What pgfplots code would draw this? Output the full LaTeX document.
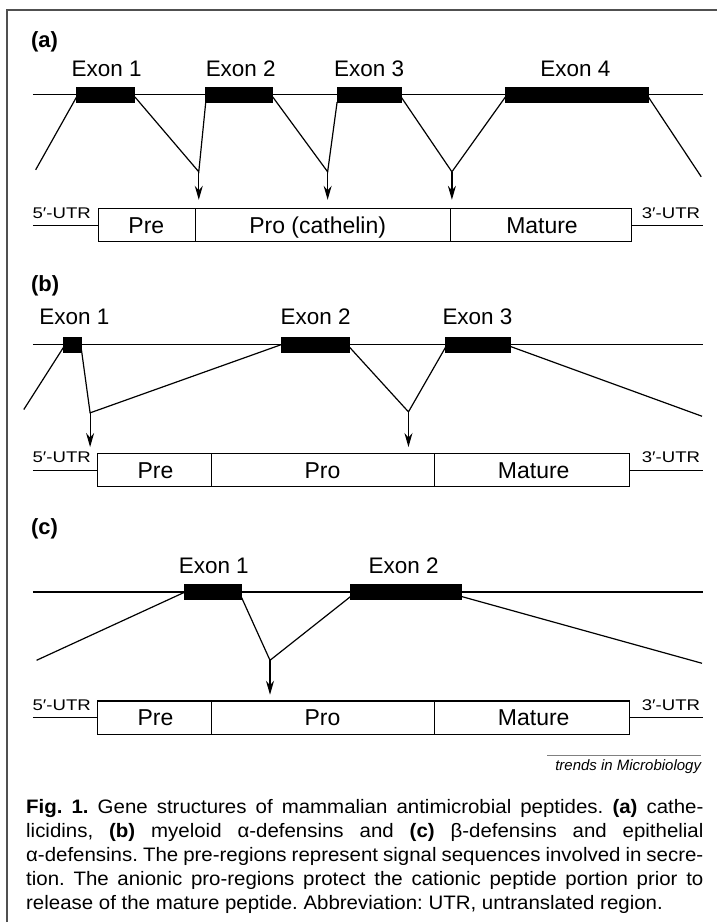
\documentclass[border=0pt]{standalone}
\usepackage{pgfplots}
\pgfplotsset{compat=1.18}
\usetikzlibrary{arrows.meta}
\usepackage{fontspec}
\setmainfont{Liberation Sans}
\newfontfamily\capfont[FakeStretch=1.05]{Liberation Sans}
\newfontfamily\utrfont[FakeStretch=1.2]{Liberation Sans}
\definecolor{bordergray}{HTML}{505050}
\newcommand{\exfont}{\fontsize{22.5}{26}\selectfont}
\newcommand{\bxfont}{\fontsize{23}{26}\selectfont}
\newcommand{\utr}{\utrfont\fontsize{15.5}{18}\selectfont}
\newcommand{\captxt}{\capfont\fontsize{19.5}{24}\selectfont\frenchspacing}
\begin{document}
\begin{tikzpicture}
\begin{axis}[
  width=718pt, height=923pt, scale only axis,
  xmin=0, xmax=718, ymin=0, ymax=923, y dir=reverse,
  hide axis, clip=false,
  cycle list={{black,solid,mark=none,line width=1.2pt}},
  ln/.style={black,solid,mark=none,line width=1.2pt},
  arr/.style={black,solid,mark=none,line width=1.2pt,-{Stealth[length=14pt,width=8pt]}},
  ex/.style={black,solid,mark=none,line width=1pt,fill=black},
]
% bounding
\addplot[draw=none] coordinates {(0,0) (718,923)};
% frame
\addplot[bordergray, line width=2pt, mark=none] coordinates {(7,923) (7,10) (718,10)};

% ================= (a) =================
\addplot[ln] coordinates {(33,95) (704,95)};
\addplot[ex] coordinates {(76.7,88) (135,88) (135,103) (76.7,103)} --cycle;
\addplot[ex] coordinates {(206,88) (273,88) (273,103) (206,103)} --cycle;
\addplot[ex] coordinates {(337.5,88) (401.5,88) (401.5,103) (337.5,103)} --cycle;
\addplot[ex] coordinates {(506,88) (649,88) (649,103) (506,103)} --cycle;
\addplot[ln] coordinates {(76.7,97) (35.7,170)};
\addplot[ln] coordinates {(135,97) (199,172) (206,102)};
\addplot[ln] coordinates {(273,97) (328,172) (337.5,102)};
\addplot[ln] coordinates {(401.5,97) (452.4,172) (506,97)};
\addplot[ln] coordinates {(649,97) (702,177)};
\addplot[arr] coordinates {(199,172) (199,200)};
\addplot[arr] coordinates {(328,172) (328,200)};
\addplot[arr] coordinates {(452.4,172) (452.4,200)};
\addplot[ln] coordinates {(33,225.5) (98.4,225.5)};
\addplot[ln] coordinates {(632,225.5) (704,225.5)};
\addplot[ln] coordinates {(98.4,209) (632,209) (632,242) (98.4,242)} --cycle;
\addplot[ln] coordinates {(196,209) (196,242)};
\addplot[ln] coordinates {(451,209) (451,242)};
\node[anchor=base west, inner sep=0pt] at (31,47.2) {\fontsize{22}{24}\selectfont\bfseries (a)};
\node[anchor=base, inner sep=0pt] at (106.7,77) {\exfont Exon 1};
\node[anchor=base, inner sep=0pt] at (241,77) {\exfont Exon 2};
\node[anchor=base, inner sep=0pt] at (369.5,77) {\exfont Exon 3};
\node[anchor=base, inner sep=0pt] at (576,77) {\exfont Exon 4};
\node[anchor=base west, inner sep=0pt] at (32.5,218.3) {\utr 5′-UTR};
\node[anchor=base east, inner sep=0pt] at (701,218.3) {\utr 3′-UTR};
\node[anchor=base, inner sep=0pt] at (146.5,233.7) {\bxfont Pre};
\node[anchor=base, inner sep=0pt] at (318,233.7) {\bxfont Pro (cathelin)};
\node[anchor=base, inner sep=0pt] at (542.6,233.7) {\bxfont Mature};

% ================= (b) =================
\addplot[ln] coordinates {(33,345) (704,345)};
\addplot[ex] coordinates {(64,337.5) (81.5,337.5) (81.5,352.5) (64,352.5)} --cycle;
\addplot[ex] coordinates {(281.6,337.5) (349.4,337.5) (349.4,352.5) (281.6,352.5)} --cycle;
\addplot[ex] coordinates {(446.4,337.5) (511.4,337.5) (511.4,352.5) (446.4,352.5)} --cycle;
\addplot[ln] coordinates {(64,347) (23.8,410)};
\addplot[ln] coordinates {(81.5,350) (90.2,413.3) (281.6,345)};
\addplot[ln] coordinates {(349.4,347) (408.9,412.3) (446.4,347)};
\addplot[ln] coordinates {(511.4,347) (702.8,416.7)};
\addplot[arr] coordinates {(90.2,413.3) (90.2,447.5)};
\addplot[arr] coordinates {(408.9,412.3) (408.9,447.5)};
\addplot[ln] coordinates {(33,470.7) (97.5,470.7)};
\addplot[ln] coordinates {(630.5,470.7) (704,470.7)};
\addplot[ln] coordinates {(97.5,454) (630.5,454) (630.5,487.3) (97.5,487.3)} --cycle;
\addplot[ln] coordinates {(212,454) (212,487.3)};
\addplot[ln] coordinates {(435,454) (435,487.3)};
\node[anchor=base west, inner sep=0pt] at (31,291.5) {\fontsize{22}{24}\selectfont\bfseries (b)};
\node[anchor=base, inner sep=0pt] at (74.4,325) {\exfont Exon 1};
\node[anchor=base, inner sep=0pt] at (316,325) {\exfont Exon 2};
\node[anchor=base, inner sep=0pt] at (478,325) {\exfont Exon 3};
\node[anchor=base west, inner sep=0pt] at (32.5,463.3) {\utr 5′-UTR};
\node[anchor=base east, inner sep=0pt] at (701,463.3) {\utr 3′-UTR};
\node[anchor=base, inner sep=0pt] at (155.7,479) {\bxfont Pre};
\node[anchor=base, inner sep=0pt] at (322.8,479) {\bxfont Pro};
\node[anchor=base, inner sep=0pt] at (534.3,479) {\bxfont Mature};

% ================= (c) =================
\addplot[ln] coordinates {(33,592.7) (704,592.7)};
\addplot[ex] coordinates {(184.5,585) (241.3,585) (241.3,600) (184.5,600)} --cycle;
\addplot[ex] coordinates {(351.2,585) (461.5,585) (461.5,600) (351.2,600)} --cycle;
\addplot[ln] coordinates {(184.5,593) (36.6,661)};
\addplot[ln] coordinates {(241.3,597) (270.3,661) (351.2,597)};
\addplot[ln] coordinates {(461.5,597) (702.8,664)};
\addplot[arr] coordinates {(270.3,661) (270.3,695.5)};
\addplot[ln] coordinates {(33,718.3) (97.5,718.3)};
\addplot[ln] coordinates {(630.5,718.3) (704,718.3)};
\addplot[ln] coordinates {(97.5,701.7) (630.5,701.7) (630.5,735) (97.5,735)} --cycle;
\addplot[ln] coordinates {(212,701.7) (212,735)};
\addplot[ln] coordinates {(435,701.7) (435,735)};
\node[anchor=base west, inner sep=0pt] at (31,535.5) {\fontsize{22}{24}\selectfont\bfseries (c)};
\node[anchor=base, inner sep=0pt] at (214,574.5) {\exfont Exon 1};
\node[anchor=base, inner sep=0pt] at (404,574.5) {\exfont Exon 2};
\node[anchor=base west, inner sep=0pt] at (32.5,711) {\utr 5′-UTR};
\node[anchor=base east, inner sep=0pt] at (701,711) {\utr 3′-UTR};
\node[anchor=base, inner sep=0pt] at (155.7,726.6) {\bxfont Pre};
\node[anchor=base, inner sep=0pt] at (322.8,726.6) {\bxfont Pro};
\node[anchor=base, inner sep=0pt] at (534.3,726.6) {\bxfont Mature};

% ================= credit =================
\addplot[gray, line width=1pt, mark=none] coordinates {(548,756) (702,756)};
\node[anchor=base east, inner sep=0pt] at (702,771.7) {\fontsize{15}{18}\selectfont\itshape trends in Microbiology};

% ================= caption =================
\node[anchor=base west, inner sep=0pt] at (26,814) {\captxt\makebox[678pt][s]{\textbf{Fig. 1.} Gene structures of mammalian antimicrobial peptides. \textbf{(a)} cathe-}};
\node[anchor=base west, inner sep=0pt] at (26,838) {\captxt\makebox[678pt][s]{licidins, \textbf{(b)} myeloid α-defensins and \textbf{(c)} β-defensins and epithelial}};
\node[anchor=base west, inner sep=0pt] at (26,862) {\captxt\makebox[678pt][s]{α-defensins. The pre-regions represent signal sequences involved in secre-}};
\node[anchor=base west, inner sep=0pt] at (26,886) {\captxt\makebox[678pt][s]{tion. The anionic pro-regions protect the cationic peptide portion prior to}};
\node[anchor=base west, inner sep=0pt] at (26,910) {\captxt release of the mature peptide. Abbreviation: UTR, untranslated region.};
\end{axis}
\end{tikzpicture}
\end{document}
